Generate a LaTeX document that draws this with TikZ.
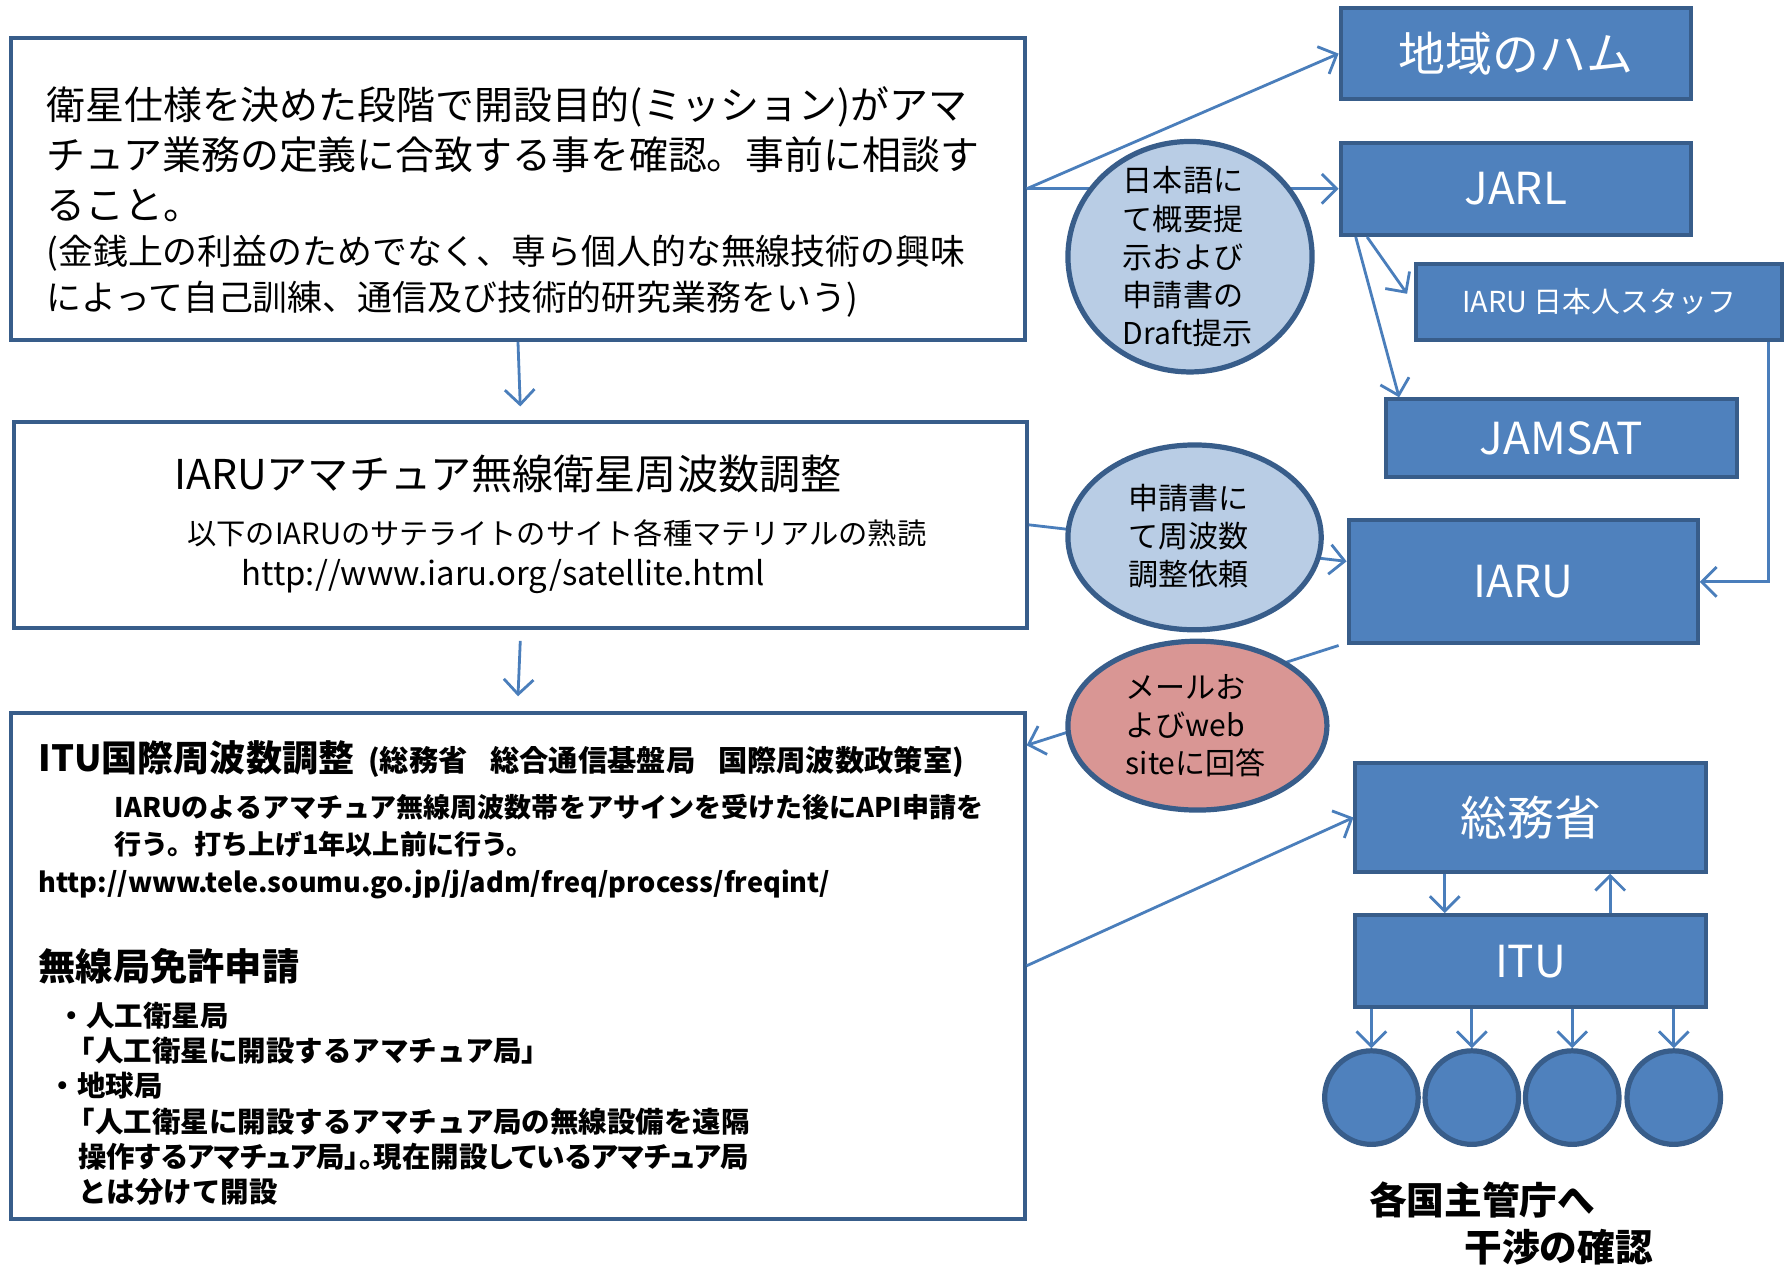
\documentclass[tikz,border=0pt]{standalone}
\usepackage{fontspec}
\setmainfont{Noto Sans CJK JP}
\usetikzlibrary{arrows.meta,shapes.geometric}

\definecolor{boxblue}{RGB}{79,129,189}
\definecolor{boxedge}{RGB}{56,93,138}
\definecolor{linkblue}{RGB}{74,126,187}
\definecolor{bubbleblue}{RGB}{185,205,229}
\definecolor{bubblepink}{RGB}{217,150,148}

\tikzset{
  orgbox/.style={draw=boxedge, line width=1pt, fill=boxblue, text=white,
    inner sep=0pt, font=\fontsize{11}{13}\selectfont},
  mainbox/.style={draw=boxedge, line width=1pt, fill=white},
  bubble/.style={ellipse, draw=boxedge, line width=1.3pt, fill=bubbleblue,
    inner sep=0pt},
  bubbletext/.style={inner sep=0pt, align=left, font=\fontsize{7.5}{9.5}\selectfont},
  country/.style={circle, draw=boxedge, line width=1.3pt, fill=boxblue,
    minimum size=0.82cm},
  link/.style={draw=linkblue, line width=0.7pt, ->},
  plain/.style={inner sep=0pt, anchor=west, align=left},
}

\begin{document}
\begin{tikzpicture}[>={Straight Barb[length=1.3mm,width=2.6mm]}]
  \useasboundingbox (0,0) rectangle (15.68,11.08);

  % left column
  \node[mainbox, minimum width=8.88cm, minimum height=2.65cm] (aim) at (4.54,9.425) {};
  \node[mainbox, minimum width=8.88cm, minimum height=1.80cm] (band) at (4.56,6.48) {};
  \node[mainbox, minimum width=8.88cm, minimum height=4.43cm] (coord) at (4.54,2.615) {};

  \node[plain, font=\fontsize{9.7}{12.5}\selectfont] (aimtext) at (0.40,9.725)
    {衛星仕様を決めた段階で開設目的(ミッション)がアマ\\チュア業務の定義に合致する事を確認。事前に相談す\\ること。};
  \node[plain, font=\fontsize{8.7}{11.4}\selectfont] (aimnote) at (0.40,8.66)
    {(金銭上の利益のためでなく、専ら個人的な無線技術の興味\\によって自己訓練、通信及び技術的研究業務をいう)};

  \node[inner sep=0pt, font=\fontsize{10.25}{12}\selectfont] (bandtitle) at (4.45,6.93) {IARUアマチュア無線衛星周波数調整};
  \node[inner sep=0pt, font=\fontsize{7.3}{9}\selectfont] (bandtext) at (4.88,6.41) {以下のIARUのサテライトのサイト各種マテリアルの熟読};
  \node[inner sep=0pt, font=\fontsize{8.2}{10}\selectfont] (bandurl) at (4.41,6.03) {http://www.iaru.org/satellite.html};

  \node[plain, font=\bfseries] (coordtitle) at (0.33,4.43)
    {{\fontsize{9}{12}\selectfont ITU国際周波数調整}\hspace{0.12cm}{\fontsize{7.3}{9}\selectfont (総務省\hspace{0.2cm}総合通信基盤局\hspace{0.2cm}国際周波数政策室)}};
  \node[plain, font=\fontsize{6.74}{9.1}\selectfont\bfseries] (coordtext) at (1.00,3.84)
    {IARUのよるアマチュア無線周波数帯をアサインを受けた後にAPI申請を\\行う。打ち上げ1年以上前に行う。};
  \node[plain, font=\fontsize{6.76}{9}\selectfont\bfseries] (coordurl) at (0.33,3.33)
    {http://www.tele.soumu.go.jp/j/adm/freq/process/freqint/};
  \node[plain, font=\fontsize{9.3}{11}\selectfont\bfseries] (licence) at (0.33,2.61) {無線局免許申請};
  \node[plain, font=\fontsize{7.1}{8.8}\selectfont\bfseries] (licencelist) at (0.40,1.405)
    {\hspace*{0.10cm}・人工衛星局\\
     \hspace*{0.18cm}「人工衛星に開設するアマチュア局」\\
     \hspace*{0.02cm}・地球局\\
     \hspace*{0.18cm}「人工衛星に開設するアマチュア局の無線設備を遠隔\\
     \hspace*{0.28cm}{\addfontfeature{RawFeature=+palt}操作するアマチュア局」。現在開設しているアマチュア局}\\
     \hspace*{0.28cm}とは分けて開設};

  % right column
  \node[orgbox, minimum width=3.07cm, minimum height=0.80cm, font=\fontsize{11.7}{14}\selectfont] (ham) at (13.285,10.61) {地域のハム};
  \node[orgbox, minimum width=3.07cm, minimum height=0.81cm] (jarl) at (13.285,9.425) {JARL};
  \node[orgbox, minimum width=3.21cm, minimum height=0.67cm, font=\fontsize{7.2}{9}\selectfont] (staff) at (14.015,8.435) {IARU 日本人スタッフ};
  \node[orgbox, minimum width=3.07cm, minimum height=0.68cm] (jamsat) at (13.685,7.24) {JAMSAT};
  \node[orgbox, minimum width=3.06cm, minimum height=1.08cm] (iaru) at (13.35,5.98) {IARU};
  \node[orgbox, minimum width=3.07cm, minimum height=0.95cm, font=\fontsize{11.7}{14}\selectfont] (soumu) at (13.415,3.915) {総務省};
  \node[orgbox, minimum width=3.07cm, minimum height=0.81cm] (itu) at (13.415,2.655) {ITU};
  \foreach \name/\x in {c1/12.02, c2/12.90, c3/13.78, c4/14.67}
    \node[country] (\name) at (\x,1.46) {};

  \node[inner sep=0pt, font=\fontsize{9.4}{11}\selectfont\bfseries] (admin) at (12.99,0.56) {各国主管庁へ};
  \node[inner sep=0pt, font=\fontsize{9.4}{11}\selectfont\bfseries] (check) at (13.66,0.15) {干渉の確認};

  % connectors
  \draw[link] (aim.south) -- ([yshift=0.12cm]band.north);
  \draw[link] ([yshift=-0.10cm]band.south) -- ([yshift=0.13cm]coord.north);
  \draw[link] (aim.east) -- (ham.west);
  \draw[link] (aim.east) -- (jarl.west);
  \draw[link] ([xshift=0.25cm]jarl.south west) -- ([xshift=-0.06cm,yshift=0.07cm]staff.west);
  \draw[link] ([xshift=0.15cm]jarl.south west) -- ([xshift=0.13cm]jamsat.north west);
  \draw[link] ([xshift=-0.14cm]staff.south east) |- (iaru.east);
  \draw[link] (band.east) -- ([yshift=0.18cm]iaru.west);
  \draw[link] ([xshift=-0.07cm]iaru.south west) -- ([yshift=-0.30cm]coord.north east);
  \draw[link] (coord.east) -- (soumu.west);
  \draw[link] ([xshift=0.80cm]soumu.south west) -- ([xshift=0.80cm]itu.north west);
  \draw[link] ([xshift=2.25cm]itu.north west) -- ([xshift=2.25cm]soumu.south west);
  \foreach \name in {c1,c2,c3,c4}
    \draw[link] (itu.south -| \name) -- (\name.north);

  % bubbles on top of the lines
  \node[bubble, minimum width=2.14cm, minimum height=2.02cm] (draft) at (10.43,8.83) {};
  \node[bubbletext] (drafttext) at (10.41,8.83)
    {日本語に\\て概要提\\示および\\申請書の\\Draft提示};
  \node[bubble, minimum width=2.22cm, minimum height=1.62cm] (request) at (10.47,6.37) {};
  \node[bubbletext] (requesttext) at (10.42,6.38)
    {申請書に\\て周波数\\調整依頼};
  \node[bubble, fill=bubblepink, minimum width=2.27cm, minimum height=1.48cm] (reply) at (10.495,4.72) {};
  \node[bubbletext] (replytext) at (10.48,4.72)
    {メールお\\よびweb\\siteに回答};
\end{tikzpicture}
\end{document}
